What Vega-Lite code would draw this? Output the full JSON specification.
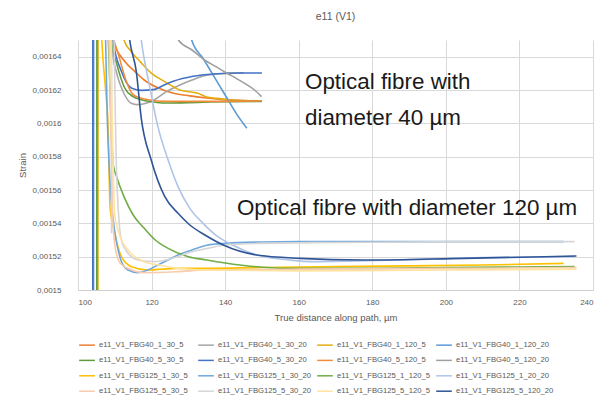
{
  "$schema": "https://vega.github.io/schema/vega-lite/v6.json",
  "width": 515,
  "height": 250,
  "autosize": {"type": "none"},
  "padding": {"left": 78, "top": 40, "right": 14, "bottom": 113},
  "background": "white",
  "config": {"view": {"stroke": null}, "font": "Liberation Sans"},
  "title": {"text": "e11 (V1)", "fontSize": 10.5, "fontWeight": "normal", "color": "#595959", "font": "Liberation Sans", "offset": 18, "anchor": "middle"},
  "layer": [
    {
      "data": {"values": [
        {"series": "e11_V1_FBG40_1_30_5", "distance": 106, "strain": 0.0018},
        {"series": "e11_V1_FBG40_1_30_5", "distance": 108.5, "strain": 0.00166},
        {"series": "e11_V1_FBG40_1_30_5", "distance": 110, "strain": 0.001647},
        {"series": "e11_V1_FBG40_1_30_5", "distance": 112.8, "strain": 0.001637},
        {"series": "e11_V1_FBG40_1_30_5", "distance": 116, "strain": 0.00163},
        {"series": "e11_V1_FBG40_1_30_5", "distance": 118, "strain": 0.001626},
        {"series": "e11_V1_FBG40_1_30_5", "distance": 122, "strain": 0.001621},
        {"series": "e11_V1_FBG40_1_30_5", "distance": 126, "strain": 0.001618},
        {"series": "e11_V1_FBG40_1_30_5", "distance": 130.4, "strain": 0.0016165},
        {"series": "e11_V1_FBG40_1_30_5", "distance": 135, "strain": 0.0016152},
        {"series": "e11_V1_FBG40_1_30_5", "distance": 140, "strain": 0.0016142},
        {"series": "e11_V1_FBG40_1_30_5", "distance": 145, "strain": 0.0016137},
        {"series": "e11_V1_FBG40_1_30_5", "distance": 150, "strain": 0.0016135},

        {"series": "e11_V1_FBG40_1_30_20", "distance": 106, "strain": 0.0018},
        {"series": "e11_V1_FBG40_1_30_20", "distance": 108, "strain": 0.00168},
        {"series": "e11_V1_FBG40_1_30_20", "distance": 109.5, "strain": 0.00164},
        {"series": "e11_V1_FBG40_1_30_20", "distance": 110.4, "strain": 0.001631},
        {"series": "e11_V1_FBG40_1_30_20", "distance": 112.7, "strain": 0.001617},
        {"series": "e11_V1_FBG40_1_30_20", "distance": 114.5, "strain": 0.001612},
        {"series": "e11_V1_FBG40_1_30_20", "distance": 116, "strain": 0.0016112},
        {"series": "e11_V1_FBG40_1_30_20", "distance": 118, "strain": 0.0016118},
        {"series": "e11_V1_FBG40_1_30_20", "distance": 120.8, "strain": 0.0016142},
        {"series": "e11_V1_FBG40_1_30_20", "distance": 124, "strain": 0.001619},
        {"series": "e11_V1_FBG40_1_30_20", "distance": 127.7, "strain": 0.001623},
        {"series": "e11_V1_FBG40_1_30_20", "distance": 131, "strain": 0.001626},
        {"series": "e11_V1_FBG40_1_30_20", "distance": 135, "strain": 0.0016288},
        {"series": "e11_V1_FBG40_1_30_20", "distance": 140.4, "strain": 0.00163},
        {"series": "e11_V1_FBG40_1_30_20", "distance": 145, "strain": 0.0016303},

        {"series": "e11_V1_FBG40_1_120_5", "distance": 105.4, "strain": 0.0014},
        {"series": "e11_V1_FBG40_1_120_5", "distance": 105.5, "strain": 0.002},
        {"series": "e11_V1_FBG40_1_120_5", "distance": 110, "strain": 0.0017},
        {"series": "e11_V1_FBG40_1_120_5", "distance": 112.5, "strain": 0.00165},
        {"series": "e11_V1_FBG40_1_120_5", "distance": 114.5, "strain": 0.001643},
        {"series": "e11_V1_FBG40_1_120_5", "distance": 116.9, "strain": 0.001637},
        {"series": "e11_V1_FBG40_1_120_5", "distance": 120, "strain": 0.00163},
        {"series": "e11_V1_FBG40_1_120_5", "distance": 123.6, "strain": 0.001625},
        {"series": "e11_V1_FBG40_1_120_5", "distance": 127.7, "strain": 0.00162},
        {"series": "e11_V1_FBG40_1_120_5", "distance": 132.6, "strain": 0.001618},
        {"series": "e11_V1_FBG40_1_120_5", "distance": 135, "strain": 0.0016158},
        {"series": "e11_V1_FBG40_1_120_5", "distance": 138, "strain": 0.001615},
        {"series": "e11_V1_FBG40_1_120_5", "distance": 141.3, "strain": 0.001614},
        {"series": "e11_V1_FBG40_1_120_5", "distance": 145, "strain": 0.0016136},
        {"series": "e11_V1_FBG40_1_120_5", "distance": 150, "strain": 0.0016134},

        {"series": "e11_V1_FBG40_1_120_20", "distance": 104.2, "strain": 0.0014},
        {"series": "e11_V1_FBG40_1_120_20", "distance": 104.3, "strain": 0.002},
        {"series": "e11_V1_FBG40_1_120_20", "distance": 128, "strain": 0.0017},
        {"series": "e11_V1_FBG40_1_120_20", "distance": 130.9, "strain": 0.00165},
        {"series": "e11_V1_FBG40_1_120_20", "distance": 134, "strain": 0.001639},
        {"series": "e11_V1_FBG40_1_120_20", "distance": 137, "strain": 0.001628},
        {"series": "e11_V1_FBG40_1_120_20", "distance": 140, "strain": 0.001617},
        {"series": "e11_V1_FBG40_1_120_20", "distance": 143, "strain": 0.001606},
        {"series": "e11_V1_FBG40_1_120_20", "distance": 145.9, "strain": 0.001597},

        {"series": "e11_V1_FBG40_5_30_5", "distance": 105.1, "strain": 0.0014},
        {"series": "e11_V1_FBG40_5_30_5", "distance": 105.2, "strain": 0.002},
        {"series": "e11_V1_FBG40_5_30_5", "distance": 108, "strain": 0.0017},
        {"series": "e11_V1_FBG40_5_30_5", "distance": 109.05, "strain": 0.00165},
        {"series": "e11_V1_FBG40_5_30_5", "distance": 110.5, "strain": 0.001636},
        {"series": "e11_V1_FBG40_5_30_5", "distance": 112.7, "strain": 0.0016212},
        {"series": "e11_V1_FBG40_5_30_5", "distance": 115, "strain": 0.001616},
        {"series": "e11_V1_FBG40_5_30_5", "distance": 117.2, "strain": 0.0016142},
        {"series": "e11_V1_FBG40_5_30_5", "distance": 120, "strain": 0.001613},
        {"series": "e11_V1_FBG40_5_30_5", "distance": 123.6, "strain": 0.0016122},
        {"series": "e11_V1_FBG40_5_30_5", "distance": 132.6, "strain": 0.0016126},
        {"series": "e11_V1_FBG40_5_30_5", "distance": 140, "strain": 0.001613},
        {"series": "e11_V1_FBG40_5_30_5", "distance": 150, "strain": 0.0016132},

        {"series": "e11_V1_FBG40_5_30_20", "distance": 104.0, "strain": 0.0014},
        {"series": "e11_V1_FBG40_5_30_20", "distance": 104.1, "strain": 0.002},
        {"series": "e11_V1_FBG40_5_30_20", "distance": 108, "strain": 0.0017},
        {"series": "e11_V1_FBG40_5_30_20", "distance": 109.5, "strain": 0.00165},
        {"series": "e11_V1_FBG40_5_30_20", "distance": 111.8, "strain": 0.0016312},
        {"series": "e11_V1_FBG40_5_30_20", "distance": 114.5, "strain": 0.0016212},
        {"series": "e11_V1_FBG40_5_30_20", "distance": 117.2, "strain": 0.0016198},
        {"series": "e11_V1_FBG40_5_30_20", "distance": 120.5, "strain": 0.0016202},
        {"series": "e11_V1_FBG40_5_30_20", "distance": 123.6, "strain": 0.0016232},
        {"series": "e11_V1_FBG40_5_30_20", "distance": 125.9, "strain": 0.0016252},
        {"series": "e11_V1_FBG40_5_30_20", "distance": 131.3, "strain": 0.0016282},
        {"series": "e11_V1_FBG40_5_30_20", "distance": 136.8, "strain": 0.0016296},
        {"series": "e11_V1_FBG40_5_30_20", "distance": 144, "strain": 0.0016302},
        {"series": "e11_V1_FBG40_5_30_20", "distance": 150, "strain": 0.0016302},

        {"series": "e11_V1_FBG40_5_120_5", "distance": 106, "strain": 0.0018},
        {"series": "e11_V1_FBG40_5_120_5", "distance": 109, "strain": 0.00166},
        {"series": "e11_V1_FBG40_5_120_5", "distance": 111.3, "strain": 0.001639},
        {"series": "e11_V1_FBG40_5_120_5", "distance": 113, "strain": 0.001626},
        {"series": "e11_V1_FBG40_5_120_5", "distance": 115, "strain": 0.0016172},
        {"series": "e11_V1_FBG40_5_120_5", "distance": 117, "strain": 0.0016152},
        {"series": "e11_V1_FBG40_5_120_5", "distance": 119, "strain": 0.0016142},
        {"series": "e11_V1_FBG40_5_120_5", "distance": 124, "strain": 0.0016132},
        {"series": "e11_V1_FBG40_5_120_5", "distance": 132.6, "strain": 0.0016132},
        {"series": "e11_V1_FBG40_5_120_5", "distance": 140, "strain": 0.0016132},
        {"series": "e11_V1_FBG40_5_120_5", "distance": 150, "strain": 0.0016134},

        {"series": "e11_V1_FBG40_5_120_20", "distance": 124, "strain": 0.00167},
        {"series": "e11_V1_FBG40_5_120_20", "distance": 127.3, "strain": 0.00165},
        {"series": "e11_V1_FBG40_5_120_20", "distance": 131, "strain": 0.001644},
        {"series": "e11_V1_FBG40_5_120_20", "distance": 134.8, "strain": 0.0016374},
        {"series": "e11_V1_FBG40_5_120_20", "distance": 137.5, "strain": 0.001634},
        {"series": "e11_V1_FBG40_5_120_20", "distance": 140.4, "strain": 0.0016302},
        {"series": "e11_V1_FBG40_5_120_20", "distance": 143, "strain": 0.001627},
        {"series": "e11_V1_FBG40_5_120_20", "distance": 145.9, "strain": 0.0016232},
        {"series": "e11_V1_FBG40_5_120_20", "distance": 148, "strain": 0.00162},
        {"series": "e11_V1_FBG40_5_120_20", "distance": 149.9, "strain": 0.001616},

        {"series": "e11_V1_FBG125_1_30_5", "distance": 106, "strain": 0.0017},
        {"series": "e11_V1_FBG125_1_30_5", "distance": 106.3, "strain": 0.00166},
        {"series": "e11_V1_FBG125_1_30_5", "distance": 107.5, "strain": 0.00162},
        {"series": "e11_V1_FBG125_1_30_5", "distance": 108.2, "strain": 0.001597},
        {"series": "e11_V1_FBG125_1_30_5", "distance": 108.7, "strain": 0.00155},
        {"series": "e11_V1_FBG125_1_30_5", "distance": 110, "strain": 0.001534},
        {"series": "e11_V1_FBG125_1_30_5", "distance": 111.8, "strain": 0.00152},
        {"series": "e11_V1_FBG125_1_30_5", "distance": 114.5, "strain": 0.001514},
        {"series": "e11_V1_FBG125_1_30_5", "distance": 119, "strain": 0.001512},
        {"series": "e11_V1_FBG125_1_30_5", "distance": 127, "strain": 0.001513},
        {"series": "e11_V1_FBG125_1_30_5", "distance": 135, "strain": 0.001513},
        {"series": "e11_V1_FBG125_1_30_5", "distance": 150, "strain": 0.0015135},
        {"series": "e11_V1_FBG125_1_30_5", "distance": 170, "strain": 0.001514},
        {"series": "e11_V1_FBG125_1_30_5", "distance": 190, "strain": 0.0015145},
        {"series": "e11_V1_FBG125_1_30_5", "distance": 210, "strain": 0.001515},
        {"series": "e11_V1_FBG125_1_30_5", "distance": 232, "strain": 0.001516},

        {"series": "e11_V1_FBG125_1_30_20", "distance": 107, "strain": 0.0017},
        {"series": "e11_V1_FBG125_1_30_20", "distance": 108, "strain": 0.0016},
        {"series": "e11_V1_FBG125_1_30_20", "distance": 109, "strain": 0.001555},
        {"series": "e11_V1_FBG125_1_30_20", "distance": 110, "strain": 0.001535},
        {"series": "e11_V1_FBG125_1_30_20", "distance": 111, "strain": 0.001523},
        {"series": "e11_V1_FBG125_1_30_20", "distance": 112, "strain": 0.001516},
        {"series": "e11_V1_FBG125_1_30_20", "distance": 113.6, "strain": 0.001512},
        {"series": "e11_V1_FBG125_1_30_20", "distance": 116.3, "strain": 0.0015104},
        {"series": "e11_V1_FBG125_1_30_20", "distance": 119, "strain": 0.001512},
        {"series": "e11_V1_FBG125_1_30_20", "distance": 121.7, "strain": 0.001515},
        {"series": "e11_V1_FBG125_1_30_20", "distance": 124.5, "strain": 0.001518},
        {"series": "e11_V1_FBG125_1_30_20", "distance": 127.2, "strain": 0.001521},
        {"series": "e11_V1_FBG125_1_30_20", "distance": 131, "strain": 0.001524},
        {"series": "e11_V1_FBG125_1_30_20", "distance": 135.3, "strain": 0.001527},
        {"series": "e11_V1_FBG125_1_30_20", "distance": 140, "strain": 0.001528},
        {"series": "e11_V1_FBG125_1_30_20", "distance": 150, "strain": 0.0015288},
        {"series": "e11_V1_FBG125_1_30_20", "distance": 160, "strain": 0.001529},
        {"series": "e11_V1_FBG125_1_30_20", "distance": 180, "strain": 0.001529},
        {"series": "e11_V1_FBG125_1_30_20", "distance": 200, "strain": 0.001529},
        {"series": "e11_V1_FBG125_1_30_20", "distance": 220, "strain": 0.001529},
        {"series": "e11_V1_FBG125_1_30_20", "distance": 232, "strain": 0.001529},

        {"series": "e11_V1_FBG125_1_120_5", "distance": 107.5, "strain": 0.0017},
        {"series": "e11_V1_FBG125_1_120_5", "distance": 109, "strain": 0.0016},
        {"series": "e11_V1_FBG125_1_120_5", "distance": 109.6, "strain": 0.001575},
        {"series": "e11_V1_FBG125_1_120_5", "distance": 110.5, "strain": 0.001568},
        {"series": "e11_V1_FBG125_1_120_5", "distance": 112.5, "strain": 0.001556},
        {"series": "e11_V1_FBG125_1_120_5", "distance": 115, "strain": 0.001545},
        {"series": "e11_V1_FBG125_1_120_5", "distance": 118, "strain": 0.001537},
        {"series": "e11_V1_FBG125_1_120_5", "distance": 121, "strain": 0.00153},
        {"series": "e11_V1_FBG125_1_120_5", "distance": 124.5, "strain": 0.001525},
        {"series": "e11_V1_FBG125_1_120_5", "distance": 130, "strain": 0.00152},
        {"series": "e11_V1_FBG125_1_120_5", "distance": 135, "strain": 0.001518},
        {"series": "e11_V1_FBG125_1_120_5", "distance": 144, "strain": 0.001515},
        {"series": "e11_V1_FBG125_1_120_5", "distance": 157, "strain": 0.001513},
        {"series": "e11_V1_FBG125_1_120_5", "distance": 180, "strain": 0.001513},
        {"series": "e11_V1_FBG125_1_120_5", "distance": 200, "strain": 0.0015135},
        {"series": "e11_V1_FBG125_1_120_5", "distance": 220, "strain": 0.0015138},
        {"series": "e11_V1_FBG125_1_120_5", "distance": 235, "strain": 0.001514},

        {"series": "e11_V1_FBG125_1_20_20", "distance": 115, "strain": 0.0017},
        {"series": "e11_V1_FBG125_1_20_20", "distance": 117.2, "strain": 0.00165},
        {"series": "e11_V1_FBG125_1_20_20", "distance": 119.5, "strain": 0.001622},
        {"series": "e11_V1_FBG125_1_20_20", "distance": 121.5, "strain": 0.0016},
        {"series": "e11_V1_FBG125_1_20_20", "distance": 124.5, "strain": 0.001578},
        {"series": "e11_V1_FBG125_1_20_20", "distance": 127.2, "strain": 0.001562},
        {"series": "e11_V1_FBG125_1_20_20", "distance": 130.4, "strain": 0.001549},
        {"series": "e11_V1_FBG125_1_20_20", "distance": 134, "strain": 0.00154},
        {"series": "e11_V1_FBG125_1_20_20", "distance": 138, "strain": 0.001532},
        {"series": "e11_V1_FBG125_1_20_20", "distance": 142, "strain": 0.001527},
        {"series": "e11_V1_FBG125_1_20_20", "distance": 148.6, "strain": 0.001521},
        {"series": "e11_V1_FBG125_1_20_20", "distance": 157.6, "strain": 0.001518},
        {"series": "e11_V1_FBG125_1_20_20", "distance": 164, "strain": 0.001517},
        {"series": "e11_V1_FBG125_1_20_20", "distance": 186.6, "strain": 0.001518},
        {"series": "e11_V1_FBG125_1_20_20", "distance": 210, "strain": 0.0015195},
        {"series": "e11_V1_FBG125_1_20_20", "distance": 235, "strain": 0.00152},

        {"series": "e11_V1_FBG125_5_30_5", "distance": 107.5, "strain": 0.0017},
        {"series": "e11_V1_FBG125_5_30_5", "distance": 108.3, "strain": 0.00166},
        {"series": "e11_V1_FBG125_5_30_5", "distance": 108.9, "strain": 0.0016},
        {"series": "e11_V1_FBG125_5_30_5", "distance": 109.5, "strain": 0.00154},
        {"series": "e11_V1_FBG125_5_30_5", "distance": 110.4, "strain": 0.001522},
        {"series": "e11_V1_FBG125_5_30_5", "distance": 111.5, "strain": 0.001516},
        {"series": "e11_V1_FBG125_5_30_5", "distance": 113.6, "strain": 0.001513},
        {"series": "e11_V1_FBG125_5_30_5", "distance": 118, "strain": 0.0015104},
        {"series": "e11_V1_FBG125_5_30_5", "distance": 127, "strain": 0.001511},
        {"series": "e11_V1_FBG125_5_30_5", "distance": 135, "strain": 0.001512},
        {"series": "e11_V1_FBG125_5_30_5", "distance": 160, "strain": 0.0015125},
        {"series": "e11_V1_FBG125_5_30_5", "distance": 200, "strain": 0.001513},
        {"series": "e11_V1_FBG125_5_30_5", "distance": 235.5, "strain": 0.0015135},

        {"series": "e11_V1_FBG125_5_30_20", "distance": 109.1, "strain": 0.001534},
        {"series": "e11_V1_FBG125_5_30_20", "distance": 109.2, "strain": 0.0017},
        {"series": "e11_V1_FBG125_5_30_20", "distance": 110.5, "strain": 0.00157},
        {"series": "e11_V1_FBG125_5_30_20", "distance": 111.2, "strain": 0.00154},
        {"series": "e11_V1_FBG125_5_30_20", "distance": 111.8, "strain": 0.00153},
        {"series": "e11_V1_FBG125_5_30_20", "distance": 113, "strain": 0.001524},
        {"series": "e11_V1_FBG125_5_30_20", "distance": 116.3, "strain": 0.001518},
        {"series": "e11_V1_FBG125_5_30_20", "distance": 120.8, "strain": 0.001517},
        {"series": "e11_V1_FBG125_5_30_20", "distance": 124, "strain": 0.001518},
        {"series": "e11_V1_FBG125_5_30_20", "distance": 127.2, "strain": 0.00152},
        {"series": "e11_V1_FBG125_5_30_20", "distance": 131, "strain": 0.001523},
        {"series": "e11_V1_FBG125_5_30_20", "distance": 135.3, "strain": 0.001525},
        {"series": "e11_V1_FBG125_5_30_20", "distance": 140, "strain": 0.001527},
        {"series": "e11_V1_FBG125_5_30_20", "distance": 150, "strain": 0.001528},
        {"series": "e11_V1_FBG125_5_30_20", "distance": 170, "strain": 0.0015285},
        {"series": "e11_V1_FBG125_5_30_20", "distance": 200, "strain": 0.001529},
        {"series": "e11_V1_FBG125_5_30_20", "distance": 235, "strain": 0.001529},

        {"series": "e11_V1_FBG125_5_120_5", "distance": 108, "strain": 0.0017},
        {"series": "e11_V1_FBG125_5_120_5", "distance": 108.8, "strain": 0.00166},
        {"series": "e11_V1_FBG125_5_120_5", "distance": 109.3, "strain": 0.0016},
        {"series": "e11_V1_FBG125_5_120_5", "distance": 110, "strain": 0.001545},
        {"series": "e11_V1_FBG125_5_120_5", "distance": 111, "strain": 0.001535},
        {"series": "e11_V1_FBG125_5_120_5", "distance": 113.6, "strain": 0.001524},
        {"series": "e11_V1_FBG125_5_120_5", "distance": 118, "strain": 0.001517},
        {"series": "e11_V1_FBG125_5_120_5", "distance": 122, "strain": 0.001515},
        {"series": "e11_V1_FBG125_5_120_5", "distance": 127, "strain": 0.001513},
        {"series": "e11_V1_FBG125_5_120_5", "distance": 135, "strain": 0.001512},
        {"series": "e11_V1_FBG125_5_120_5", "distance": 160, "strain": 0.0015115},
        {"series": "e11_V1_FBG125_5_120_5", "distance": 200, "strain": 0.001512},
        {"series": "e11_V1_FBG125_5_120_5", "distance": 235.5, "strain": 0.0015125},

        {"series": "e11_V1_FBG125_5_120_20", "distance": 112, "strain": 0.0017},
        {"series": "e11_V1_FBG125_5_120_20", "distance": 114.05, "strain": 0.00165},
        {"series": "e11_V1_FBG125_5_120_20", "distance": 115.85, "strain": 0.001631},
        {"series": "e11_V1_FBG125_5_120_20", "distance": 117.2, "strain": 0.001603},
        {"series": "e11_V1_FBG125_5_120_20", "distance": 119.9, "strain": 0.001578},
        {"series": "e11_V1_FBG125_5_120_20", "distance": 123.6, "strain": 0.001556},
        {"series": "e11_V1_FBG125_5_120_20", "distance": 127.2, "strain": 0.001546},
        {"series": "e11_V1_FBG125_5_120_20", "distance": 130.4, "strain": 0.001539},
        {"series": "e11_V1_FBG125_5_120_20", "distance": 134.5, "strain": 0.001533},
        {"series": "e11_V1_FBG125_5_120_20", "distance": 139.5, "strain": 0.001527},
        {"series": "e11_V1_FBG125_5_120_20", "distance": 148.6, "strain": 0.001521},
        {"series": "e11_V1_FBG125_5_120_20", "distance": 160.3, "strain": 0.001519},
        {"series": "e11_V1_FBG125_5_120_20", "distance": 177.5, "strain": 0.001518},
        {"series": "e11_V1_FBG125_5_120_20", "distance": 204.7, "strain": 0.001519},
        {"series": "e11_V1_FBG125_5_120_20", "distance": 235.5, "strain": 0.0015204}
      ]},
      "mark": {"type": "line", "strokeWidth": 1.6, "clip": true, "interpolate": "monotone"},
      "encoding": {
        "x": {
          "field": "distance", "type": "quantitative",
          "scale": {"domain": [100, 240], "nice": false, "zero": false},
          "axis": {
            "title": "True distance along path, µm",
            "values": [100, 120, 140, 160, 180, 200, 220, 240],
            "tickCount": 20,
            "labelOverlap": false,
            "grid": true, "gridColor": "#D9D9D9", "gridWidth": 1,
            "domain": true, "domainColor": "#CFCFCF", "domainWidth": 1,
            "ticks": false, "tickSize": 0,
            "labelFontSize": 8, "labelColor": "#595959", "labelFont": "Liberation Sans", "labelPadding": 8,
            "titleFontSize": 9.5, "titleColor": "#595959", "titleFont": "Liberation Sans", "titleFontWeight": "normal", "titlePadding": 6
          }
        },
        "y": {
          "field": "strain", "type": "quantitative",
          "scale": {"domain": [0.0015, 0.00165], "nice": false, "zero": false},
          "axis": {
            "title": "Strain",
            "values": [0.0015, 0.00152, 0.00154, 0.00156, 0.00158, 0.0016, 0.00162, 0.00164],
            "tickCount": 20,
            "labelExpr": "replace(format(datum.value, '.5~f'), '.', ',')",
            "labelOverlap": false,
            "grid": true, "gridColor": "#D9D9D9", "gridWidth": 1,
            "domain": false, "ticks": false, "tickSize": 0,
            "labelFontSize": 8, "labelColor": "#595959", "labelFont": "Liberation Sans", "labelPadding": 17,
            "titleFontSize": 9.5, "titleColor": "#595959", "titleFont": "Liberation Sans", "titleFontWeight": "normal", "titlePadding": 5
          }
        },
        "color": {
          "field": "series", "type": "nominal",
          "scale": {
            "domain": ["e11_V1_FBG40_1_30_5", "e11_V1_FBG40_1_30_20", "e11_V1_FBG40_1_120_5", "e11_V1_FBG40_1_120_20",
                       "e11_V1_FBG40_5_30_5", "e11_V1_FBG40_5_30_20", "e11_V1_FBG40_5_120_5", "e11_V1_FBG40_5_120_20",
                       "e11_V1_FBG125_1_30_5", "e11_V1_FBG125_1_30_20", "e11_V1_FBG125_1_120_5", "e11_V1_FBG125_1_20_20",
                       "e11_V1_FBG125_5_30_5", "e11_V1_FBG125_5_30_20", "e11_V1_FBG125_5_120_5", "e11_V1_FBG125_5_120_20"],
            "range": ["#ED7D31", "#A5A5A5", "#E3AE12", "#5B9BD5",
                      "#5E9B3A", "#4472C4", "#F28C3C", "#9E9E9E",
                      "#FFC000", "#6FA8DC", "#70AD47", "#AFC4E8",
                      "#F8CBAD", "#D6D6D6", "#FFE3A0", "#2F5597"]
          },
          "legend": {
            "title": null, "orient": "none", "legendX": 0, "legendY": 296,
            "columns": 4, "direction": "horizontal", "gridAlign": "all",
            "columnPadding": -4, "rowPadding": 2.4, "padding": 0,
            "symbolType": "stroke", "symbolSize": 245, "symbolStrokeWidth": 1.5,
            "labelFontSize": 7.7, "labelFont": "Liberation Sans", "labelColor": "#595959", "labelOffset": 3, "labelLimit": 0
          }
        }
      }
    },
    {
      "data": {"values": [{"label": "Optical fibre with"}]},
      "mark": {"type": "text", "align": "left", "baseline": "middle", "fontSize": 22.4, "font": "Liberation Sans", "color": "#1a1a1a"},
      "encoding": {
        "x": {"datum": 161.7, "type": "quantitative"},
        "y": {"datum": 0.0016248, "type": "quantitative"},
        "text": {"field": "label", "type": "nominal"}
      }
    },
    {
      "data": {"values": [{"label": "diameter 40 µm"}]},
      "mark": {"type": "text", "align": "left", "baseline": "middle", "fontSize": 22.4, "font": "Liberation Sans", "color": "#1a1a1a"},
      "encoding": {
        "x": {"datum": 161.7, "type": "quantitative"},
        "y": {"datum": 0.0016032, "type": "quantitative"},
        "text": {"field": "label", "type": "nominal"}
      }
    },
    {
      "data": {"values": [{"label": "Optical fibre with diameter 120 µm"}]},
      "mark": {"type": "text", "align": "left", "baseline": "middle", "fontSize": 22.4, "font": "Liberation Sans", "color": "#1a1a1a"},
      "encoding": {
        "x": {"datum": 143.2, "type": "quantitative"},
        "y": {"datum": 0.0015492, "type": "quantitative"},
        "text": {"field": "label", "type": "nominal"}
      }
    }
  ]
}
